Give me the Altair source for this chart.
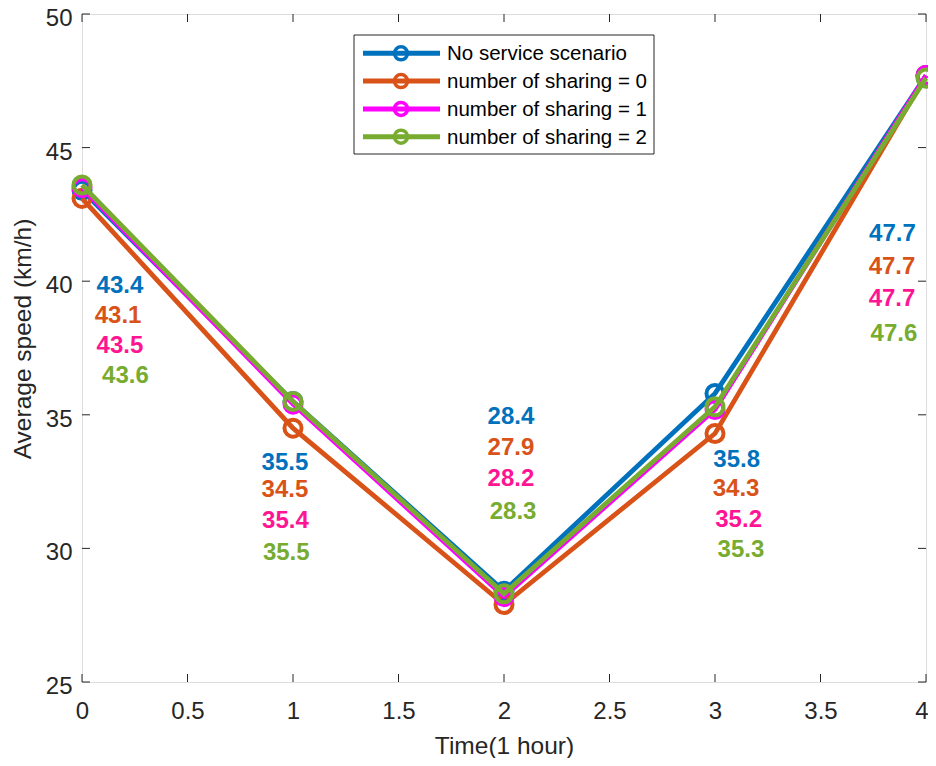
import altair as alt
import pandas as pd

# ---------------- data ----------------
times = [0, 1, 2, 3, 4]
series_names = [
    "No service scenario",
    "number of sharing = 0",
    "number of sharing = 1",
    "number of sharing = 2",
]
no_service = [43.4, 35.5, 28.4, 35.8, 47.7]
sharing0 = [43.1, 34.5, 27.9, 34.3, 47.7]
sharing1 = [43.5, 35.4, 28.2, 35.2, 47.7]
sharing2 = [43.6, 35.5, 28.3, 35.3, 47.6]
series_values = [no_service, sharing0, sharing1, sharing2]

line_colors = ["#0072BD", "#D95319", "#FF00FF", "#77AC30"]
text_colors = ["#0072BD", "#D95319", "#FF1493", "#77AC30"]

# text annotation anchors (data units), one list per series
label_x = [
    [0.180, 0.962, 2.033, 3.103, 3.841],
    [0.171, 0.962, 2.033, 3.100, 3.839],
    [0.180, 0.964, 2.033, 3.112, 3.839],
    [0.206, 0.968, 2.043, 3.123, 3.848],
]
label_y = [
    [39.82, 33.20, 34.92, 33.31, 41.77],
    [38.70, 32.19, 33.76, 32.22, 40.53],
    [37.57, 31.03, 32.60, 31.08, 39.33],
    [36.45, 29.83, 31.36, 29.94, 38.02],
]

x_ticks = [0, 0.5, 1, 1.5, 2, 2.5, 3, 3.5, 4]
y_ticks = [25, 30, 35, 40, 45, 50]

# ---------------- layout ----------------
W, H = 844, 668
FONT = "Liberation Sans"
AX = "#262626"

xscale = alt.Scale(domain=[0, 4], nice=False, zero=False)
yscale = alt.Scale(domain=[25, 50], nice=False, zero=False)
xaxis = alt.Axis(values=x_ticks, format="~g", tickSize=0, domain=False, grid=False,
                 labelFontSize=24, labelPadding=17, labelColor=AX, labelFont=FONT,
                 labelAlign=alt.condition("datum.value == 4", alt.value("right"),
                                          alt.value("center")),
                 labelOffset=alt.condition("datum.value == 4", alt.value(2),
                                           alt.value(0)),
                 title="Time(1 hour)", titleFontSize=24.5, titleFont=FONT,
                 titleFontWeight="normal", titleColor=AX,
                 titleBaseline="alphabetic", titleY=71,
                 labelFlush=False)
yaxis = alt.Axis(values=y_ticks, format="d", tickSize=0, domain=False, grid=False,
                 labelFontSize=24, labelPadding=10, labelColor=AX, labelFont=FONT,
                 labelOffset=4.5,
                 title="Average speed (km/h)", titleFontSize=24.5, titleFont=FONT,
                 titleFontWeight="normal", titleColor=AX,
                 titleBaseline="alphabetic", titleX=-52, titleY=324.5,
                 labelFlush=False)


def X(field):
    return alt.X(field, type="quantitative", scale=xscale, axis=xaxis)


def Y(field):
    return alt.Y(field, type="quantitative", scale=yscale, axis=yaxis)


layers = []

# inward tick marks (MATLAB box style)
xt = pd.DataFrame({"t": x_ticks})
yt = pd.DataFrame({"v": y_ticks})
layers.append(alt.Chart(xt).mark_rule(color=AX, strokeWidth=1).encode(
    x=X("t"), y=alt.value(H), y2=alt.value(H - 8)))
layers.append(alt.Chart(xt).mark_rule(color=AX, strokeWidth=1).encode(
    x=X("t"), y=alt.value(0), y2=alt.value(8)))
layers.append(alt.Chart(yt).mark_rule(color=AX, strokeWidth=1).encode(
    y=Y("v"), x=alt.value(0), x2=alt.value(8)))
layers.append(alt.Chart(yt).mark_rule(color=AX, strokeWidth=1).encode(
    y=Y("v"), x=alt.value(W), x2=alt.value(W - 8)))

# series lines + circle markers
for name, vals, col in zip(series_names, series_values, line_colors):
    df = pd.DataFrame({"time": times, "speed": vals, "series": name})
    base = alt.Chart(df)
    layers.append(base.mark_line(color=col, strokeWidth=4.8).encode(
        x=X("time"), y=Y("speed")))
    layers.append(base.mark_point(color=col, filled=False, strokeWidth=4,
                                  size=290, opacity=1).encode(
        x=X("time"), y=Y("speed")))

# value labels
for name, vals, col, lx, ly in zip(series_names, series_values, text_colors,
                                   label_x, label_y):
    df = pd.DataFrame({"lx": lx, "ly": ly,
                       "txt": [f"{v:.1f}" for v in vals]})
    layers.append(alt.Chart(df).mark_text(
        color=col, font=FONT, fontSize=24, fontWeight="bold",
        align="center", baseline="middle").encode(
        x=X("lx"), y=Y("ly"), text="txt:N"))

# legend (drawn manually in the plot area)
LX0, LX1, LY0, LY1 = 272, 572, 21, 140
layers.append(alt.Chart(alt.Data(values=[{"k": 1}])).mark_rect(
    fill="white", stroke=AX, strokeWidth=1).encode(
    x=alt.value(LX0), x2=alt.value(LX1), y=alt.value(LY0), y2=alt.value(LY1)))
for i, (name, col) in enumerate(zip(series_names, line_colors)):
    ry = 39.3 + 27.8 * i
    d = alt.Data(values=[{"label": name}])
    layers.append(alt.Chart(d).mark_rule(color=col, strokeWidth=5).encode(
        x=alt.value(281), x2=alt.value(358), y=alt.value(ry)))
    layers.append(alt.Chart(d).mark_point(color=col, filled=False, strokeWidth=3.5,
                                          size=170, opacity=1).encode(
        x=alt.value(319), y=alt.value(ry)))
    layers.append(alt.Chart(d).mark_text(
        color="black", font=FONT, fontSize=20.5, align="left",
        baseline="middle").encode(
        x=alt.value(365), y=alt.value(ry + 1), text="label:N"))

chart = alt.layer(*layers).properties(
    width=W, height=H,
    autosize=alt.AutoSizeParams(type="none"),
    padding={"left": 74, "top": 6, "right": 2, "bottom": 76},
).configure_view(stroke=AX, strokeWidth=1).configure(background="white")

chart.save("out.html", embed_options={"renderer": "svg", "actions": False})
